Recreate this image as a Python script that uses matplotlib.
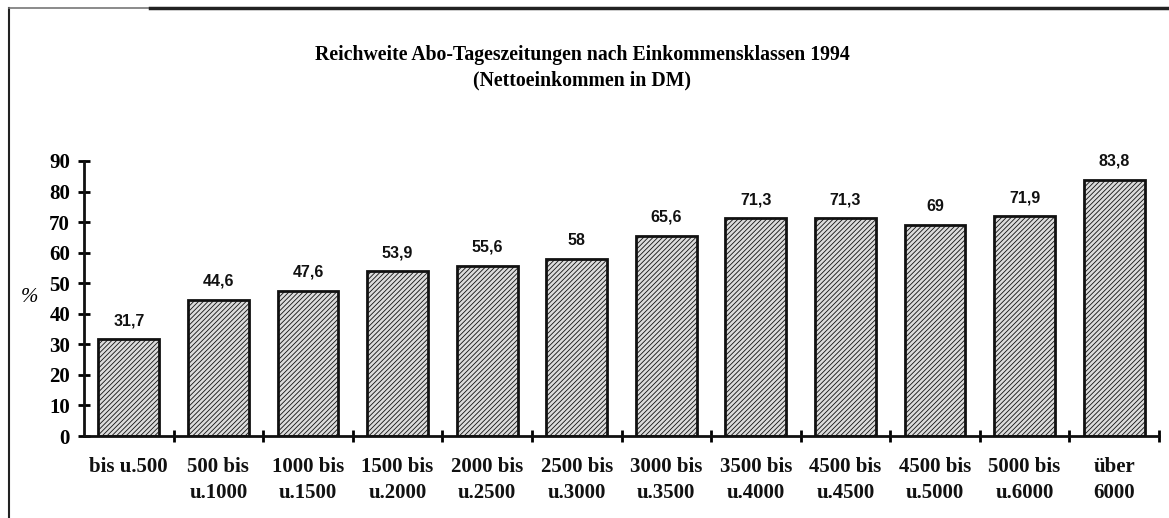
import matplotlib
matplotlib.use("Agg")
import matplotlib.pyplot as plt
from matplotlib.lines import Line2D

categories = ["bis u.500", "500 bis\nu.1000", "1000 bis\nu.1500", "1500 bis\nu.2000",
              "2000 bis\nu.2500", "2500 bis\nu.3000", "3000 bis\nu.3500", "3500 bis\nu.4000",
              "4500 bis\nu.4500", "4500 bis\nu.5000", "5000 bis\nu.6000", "über\n6000"]
values = [31.7, 44.6, 47.6, 53.9, 55.6, 58, 65.6, 71.3, 71.3, 69, 71.9, 83.8]
value_labels = ["31,7", "44,6", "47,6", "53,9", "55,6", "58", "65,6", "71,3", "71,3", "69", "71,9", "83,8"]
yticks = [0, 10, 20, 30, 40, 50, 60, 70, 80, 90]

plt.rcParams['hatch.linewidth'] = 0.6
plt.rcParams['hatch.color'] = '#3a3a3a'

fig = plt.figure(figsize=(11.69, 5.18), dpi=100)
ax = fig.add_axes([84/1169, 1-436/518, (1159-84)/1169, (436-161)/518])

serif = "Liberation Serif"
n = len(categories)
x = list(range(n))
bars = ax.bar(x, values, width=0.68, facecolor='#dcdcdc', edgecolor='#111111',
              linewidth=2.0, hatch='///////', zorder=2)
for xi, v, lab in zip(x, values, value_labels):
    ax.annotate(lab, (xi, v), xytext=(0, 8), textcoords='offset points', ha='center', va='bottom',
                fontsize=11.5, fontweight='bold', family='Liberation Sans', color='#111111')

ax.set_xlim(-0.5, n - 0.5)
ax.set_ylim(0, 90)
for s in ['top', 'right']:
    ax.spines[s].set_visible(False)
for s in ['left', 'bottom']:
    ax.spines[s].set_linewidth(2.0)
    ax.spines[s].set_color('#111111')

ax.set_yticks(yticks)
ax.set_yticklabels([str(t) for t in yticks], fontsize=15, fontweight='bold', family=serif)
ax.tick_params(axis='y', direction='inout', length=8, width=2, pad=6)

ax.set_xticks([i + 0.5 for i in range(n)])
ax.set_xticklabels([])
ax.tick_params(axis='x', direction='inout', length=8, width=2)
for xi, lab in zip(x, categories):
    ax.text(xi, -0.075, lab, transform=ax.get_xaxis_transform(), ha='center', va='top',
            fontsize=15, fontweight='bold', family=serif, linespacing=1.4, color='#111111')

fig.text(30/1169, 1-298/518, '%', fontsize=15, style='italic', family=serif,
         ha='center', va='center')

fig.text(582/1169, 1-55/518, 'Reichweite Abo-Tageszeitungen nach Einkommensklassen 1994',
         fontsize=14.2, fontweight='bold', family=serif, ha='center', va='center')
fig.text(582/1169, 1-80/518, '(Nettoeinkommen in DM)',
         fontsize=14.2, fontweight='bold', family=serif, ha='center', va='center')

fig.add_artist(Line2D([9/1169, 9/1169], [0, 1-8/518], transform=fig.transFigure, color='#222222', lw=1.5))
fig.add_artist(Line2D([9/1169, 150/1169], [1-8/518, 1-8/518], transform=fig.transFigure, color='#777777', lw=1.2))
fig.add_artist(Line2D([150/1169, 1167/1169], [1-7.5/518, 1-7.5/518], transform=fig.transFigure, color='#222222', lw=2.5))

fig.savefig('out.png', dpi=100)
